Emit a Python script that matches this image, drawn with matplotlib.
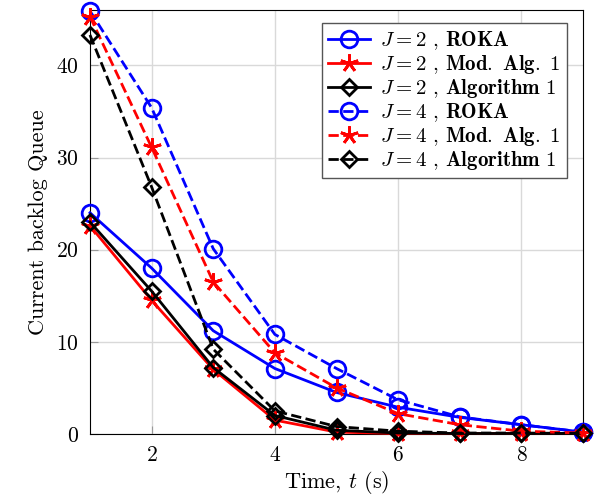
import matplotlib
matplotlib.use("Agg")
import matplotlib.pyplot as plt

plt.rcParams['font.family'] = ['cmr10', 'DejaVu Serif']
plt.rcParams['mathtext.fontset'] = 'cm'
plt.rcParams['axes.formatter.use_mathtext'] = True

t = [1, 2, 3, 4, 5, 6, 7, 8, 9]
roka_j2 = [24.0, 18.0, 11.2, 7.1, 4.5, 2.9, 1.8, 1.0, 0.2]
mod_j2 = [22.6, 14.5, 7.0, 1.5, 0.2, 0.05, 0.05, 0.05, 0.05]
alg_j2 = [23.0, 15.5, 7.2, 2.0, 0.4, 0.1, 0.05, 0.05, 0.05]
roka_j4 = [45.9, 35.4, 20.1, 10.8, 7.1, 3.7, 1.85, 1.0, 0.2]
mod_j4 = [45.3, 31.1, 16.5, 8.8, 5.0, 2.2, 1.0, 0.3, 0.1]
alg_j4 = [43.3, 26.8, 9.2, 2.5, 0.8, 0.3, 0.1, 0.1, 0.05]

labels = [r"$J = 2$ , $\mathbf{ROKA}$",
          r"$J = 2$ , $\mathbf{Mod.\ Alg.\ 1}$",
          r"$J = 2$ , $\mathbf{Algorithm\ 1}$",
          r"$J = 4$ , $\mathbf{ROKA}$",
          r"$J = 4$ , $\mathbf{Mod.\ Alg.\ 1}$",
          r"$J = 4$ , $\mathbf{Algorithm\ 1}$"]

fig = plt.figure(figsize=(6.08, 5.04), dpi=100)
ax = fig.add_axes([0.148, 0.139, 0.811, 0.841])

lw = 2
star = (5, 2, 0)
common = dict(mfc='none', mew=2, lw=lw, clip_on=False, zorder=3)
ax.plot(t, roka_j2, '-', color='blue', marker='o', ms=12, label=labels[0], **common)
ax.plot(t, mod_j2, '-', color='red', marker=star, ms=13, label=labels[1], **common)
ax.plot(t, alg_j2, '-', color='black', marker='D', ms=8, label=labels[2], **common)
ax.plot(t, roka_j4, '--', color='blue', marker='o', ms=12, label=labels[3], **common)
ax.plot(t, mod_j4, '--', color='red', marker=star, ms=13, label=labels[4], **common)
ax.plot(t, alg_j4, '--', color='black', marker='D', ms=8, label=labels[5], **common)

ax.set_xlim(1, 9)
ax.set_ylim(0, 46)
ax.set_xticks([2, 4, 6, 8])
ax.set_yticks([0, 10, 20, 30, 40])
ax.grid(True, color='#d9d9d9', lw=1)
ax.set_axisbelow(True)
ax.tick_params(direction='in', color='#999999', labelsize=15.5, length=6)
ax.tick_params(axis='x', pad=8)
ax.tick_params(axis='y', pad=8)
ax.set_xlabel(r"Time, $t$ (s)", fontsize=16, labelpad=3)
ax.set_ylabel("Current backlog Queue", fontsize=16, labelpad=6)
leg = ax.legend(loc='upper right', bbox_to_anchor=(0.9675, 0.969), fontsize=15, fancybox=False,
                edgecolor='#555555', framealpha=1, handlelength=2.0, handletextpad=0.5,
                borderpad=0.3, labelspacing=0.05, borderaxespad=0)
leg.get_frame().set_linewidth(1)
leg.set_zorder(5)
fig.savefig("out.png", dpi=100)
